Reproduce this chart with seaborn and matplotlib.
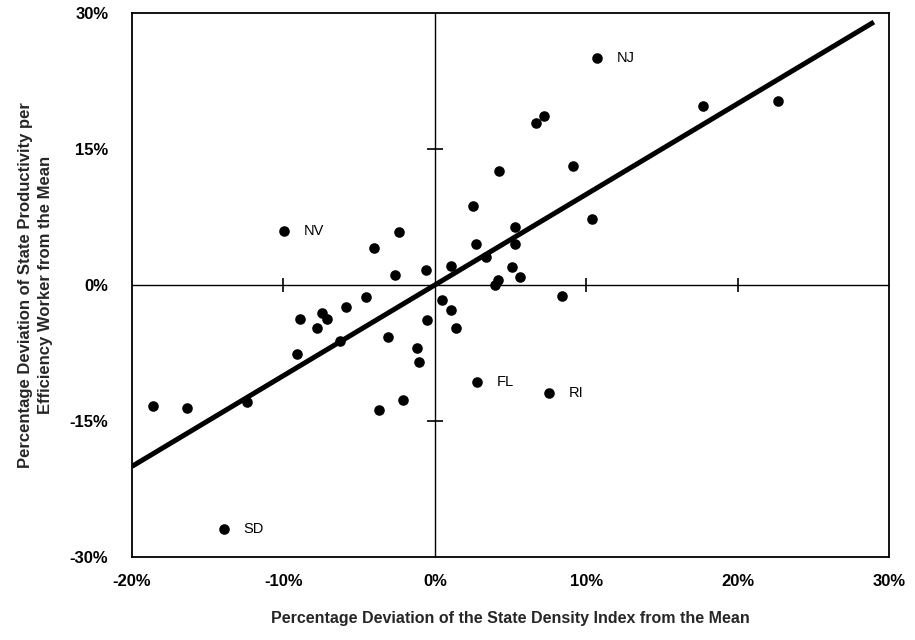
import numpy as np
import pandas as pd
import matplotlib
matplotlib.use("Agg")
import matplotlib.pyplot as plt
import seaborn as sns

# ---- data (percent deviations) ----
density_dev = [10.7, 17.7, 22.7, 9.1, 10.4, 6.7, 7.2, 4.25, 2.5, 5.3,
               2.7, 5.3, 3.4, 1.1, 5.1, -0.6, 5.6, 4.2, 4.0, 8.4,
               0.5, 1.05, -0.5, 1.4, 2.8, 7.55, -9.95, -2.35, -4.0, -2.6,
               -4.55, -5.9, -8.9, -7.45, -7.1, -7.8, -3.1, -6.25, -1.2, -1.05,
               -9.1, -2.1, -3.7, -12.4, -18.6, -16.4, -13.9]
productivity_dev = [25.0, 19.7, 20.3, 13.1, 7.3, 17.9, 18.6, 12.6, 8.7, 6.4,
                    4.5, 4.5, 3.1, 2.1, 2.0, 1.6, 0.85, 0.6, 0.0, -1.2,
                    -1.7, -2.8, -3.9, -4.7, -10.7, -11.9, 5.9, 5.8, 4.05, 1.1,
                    -1.36, -2.45, -3.7, -3.1, -3.8, -4.7, -5.7, -6.2, -7.0, -8.5,
                    -7.6, -12.7, -13.8, -12.9, -13.3, -13.6, -26.9]
state_labels = ["NJ", "", "", "", "", "", "", "", "", "",
                "", "", "", "", "", "", "", "", "", "",
                "", "", "", "", "FL", "RI", "NV", "", "", "",
                "", "", "", "", "", "", "", "", "", "",
                "", "", "", "", "", "", "SD"]

fit_slope = 1.0
fit_intercept = 0.0
fit_x = [-20.0, 29.0]

x_ticks = [-20, -10, 0, 10, 20, 30]
x_tick_labels = ["-20%", "-10%", "0%", "10%", "20%", "30%"]
y_ticks = [-30, -15, 0, 15, 30]
y_tick_labels = ["-30%", "-15%", "0%", "15%", "30%"]

x_title = "Percentage Deviation of the State Density Index from the Mean"
y_title = "Percentage Deviation of State Productivity per\nEfficiency Worker from the Mean"

df = pd.DataFrame({"density": density_dev, "productivity": productivity_dev,
                   "state": state_labels})
fit_df = pd.DataFrame({"x": fit_x,
                       "y": [fit_intercept + fit_slope * v for v in fit_x]})

# ---- style ----
sns.set_theme(style="white")
plt.rcParams["font.family"] = ["Liberation Sans", "DejaVu Sans"]

fig = plt.figure(figsize=(9.15, 6.4), dpi=100)
ax = fig.add_axes([0.1443, 0.1297, 0.8273, 0.850])

# zero reference lines
ax.axhline(0, color="black", lw=1.0, zorder=1)
ax.axvline(0, color="black", lw=1.0, zorder=1)

# small cross ticks on the zero lines
xt_inner = [v for v in x_ticks if v not in (0, x_ticks[0], x_ticks[-1])]
yt_inner = [v for v in y_ticks if v not in (0, y_ticks[0], y_ticks[-1])]
ax.plot(xt_inner, [0] * len(xt_inner), ls="none", marker="|", ms=10,
        mew=1.2, color="black", zorder=2)
ax.plot([0] * len(yt_inner), yt_inner, ls="none", marker="_", ms=12,
        mew=1.2, color="black", zorder=2)

# regression line
sns.lineplot(data=fit_df, x="x", y="y", ax=ax, color="black", lw=3.6,
             zorder=3, solid_capstyle="butt")

# data points
sns.scatterplot(data=df, x="density", y="productivity", ax=ax, s=58,
                color="black", edgecolor="black", linewidth=0, zorder=4)

for _, r in df[df["state"] != ""].iterrows():
    ax.annotate(r["state"], (r["density"], r["productivity"]),
                xytext=(14, 0), textcoords="offset points",
                ha="left", va="center", fontsize=10.5, color="black")

ax.set_xlim(-20, 30)
ax.set_ylim(-30, 30)
ax.set_xticks(x_ticks)
ax.set_xticklabels(x_tick_labels, fontsize=12, fontweight="bold")
ax.set_yticks(y_ticks)
ax.set_yticklabels(y_tick_labels, fontsize=12, fontweight="bold")
ax.tick_params(axis="both", length=0, colors="black")
ax.tick_params(axis="x", pad=12)
ax.tick_params(axis="y", pad=17)

ax.set_xlabel(x_title, fontsize=11.5, fontweight="bold", labelpad=16)
ax.set_ylabel(y_title, fontsize=12, fontweight="bold", labelpad=12,
              linespacing=1.4)

for sp in ax.spines.values():
    sp.set_visible(True)
    sp.set_color("black")
    sp.set_linewidth(1.3)
ax.set_facecolor("white")
ax.grid(False)

fig.savefig("out.png", dpi=100, facecolor="white")
